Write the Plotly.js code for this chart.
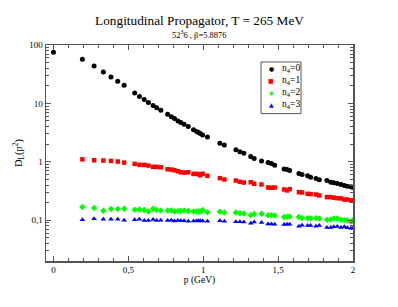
<!DOCTYPE html>
<html>
<head>
<meta charset="utf-8">
<script src="https://cdn.plot.ly/plotly-3.0.1.min.js"></script>
<style>html,body{margin:0;padding:0;background:#fff;}#chart{width:398px;height:307px;}</style>
</head>
<body>
<div id="chart"></div>
<script>
// zero-momentum point (n4=0 only)
const p0 = [0.0];
const d0zero = [75];

// momenta (GeV) shared by the four series
const p = [0.193, 0.271, 0.333, 0.384, 0.429, 0.472, 0.542, 0.574, 0.606, 0.634, 0.665, 0.689, 0.717,
  0.762, 0.787, 0.808, 0.831, 0.85, 0.872, 0.9, 0.935, 0.956, 0.969, 0.98, 0.996, 1.028,
  1.111, 1.141, 1.218, 1.245, 1.271, 1.317, 1.34, 1.389, 1.433, 1.455, 1.477, 1.54, 1.56, 1.577,
  1.639, 1.66, 1.697, 1.717, 1.753, 1.775, 1.826, 1.852, 1.872, 1.895, 1.92, 1.942, 1.962, 1.986, 1.998];

const n4_0 = [57, 43.8, 34.6, 28.4, 24, 20.5, 15, 13.1, 11.7, 10.4, 9.2, 8.4, 7.6,
  6.5, 5.9, 5.5, 5.0, 4.72, 4.4, 4.04, 3.52, 3.31, 3.17, 3.05, 2.88, 2.66,
  2.07, 1.94, 1.60, 1.48, 1.40, 1.23, 1.135, 1.035, 0.968, 0.931, 0.871, 0.756, 0.736, 0.708,
  0.63, 0.605, 0.574, 0.544, 0.517, 0.491, 0.478, 0.447, 0.436, 0.425, 0.408, 0.393, 0.382, 0.373, 0.367];

const n4_1 = [1.10, 1.06, 1.05, 1.035, 1.01, 0.968, 0.92, 0.885, 0.885, 0.861, 0.818, 0.818, 0.805,
  0.745, 0.737, 0.716, 0.689, 0.662, 0.654, 0.662, 0.621, 0.621, 0.614, 0.589, 0.621, 0.574,
  0.524, 0.497, 0.478, 0.454, 0.441, 0.446, 0.42, 0.408, 0.363, 0.359, 0.363, 0.336, 0.323, 0.34,
  0.302, 0.298, 0.283, 0.28, 0.275, 0.265, 0.248, 0.248, 0.243, 0.238, 0.236, 0.226, 0.226, 0.218, 0.216];

const n4_2 = [0.168, 0.161, 0.145, 0.155, 0.155, 0.157, 0.151, 0.153, 0.149, 0.141, 0.157, 0.149, 0.147,
  0.147, 0.147, 0.141, 0.143, 0.143, 0.147, 0.143, 0.141, 0.141, 0.141, 0.139, 0.149, 0.137,
  0.14, 0.136, 0.135, 0.131, 0.13, 0.121, 0.127, 0.129, 0.121, 0.121, 0.12, 0.113, 0.115, 0.116,
  0.113, 0.109, 0.108, 0.108, 0.108, 0.107, 0.102, 0.103, 0.107, 0.107, 0.102, 0.1, 0.1, 0.095, 0.099];

const n4_3 = [0.102, 0.106, 0.104, 0.104, 0.104, 0.1, 0.102, 0.104, 0.099, 0.099, 0.103, 0.099, 0.1,
  0.099, 0.1, 0.097, 0.099, 0.098, 0.098, 0.096, 0.097, 0.098, 0.097, 0.098, 0.097, 0.096,
  0.098, 0.096, 0.094, 0.094, 0.093, 0.089, 0.093, 0.091, 0.086, 0.086, 0.085, 0.084, 0.085, 0.085,
  0.079, 0.082, 0.081, 0.081, 0.079, 0.081, 0.075, 0.075, 0.077, 0.078, 0.075, 0.077, 0.074, 0.073, 0.072];

const seriesNames = ['n<sub>4</sub>=0', 'n<sub>4</sub>=1', 'n<sub>4</sub>=2', 'n<sub>4</sub>=3'];
const xTickVals = [0, 0.5, 1, 1.5, 2];
const xTickText = ['0', '0,5', '1', '1,5', '2'];
const yTickVals = [0.1, 1, 10, 100];
const yTickText = ['0,1', '1', '10', '100'];

const colors = ['#000000', '#ff0000', '#00ff00', '#0000ff'];
const symbols = ['circle', 'square', 'diamond', 'triangle-up'];
const glyphs = ['\u25CF', '\u25A0', '\u25C6', '\u25B2'];

const yMinor = [];
for (let e = -2; e <= 1; e++) for (let k = 2; k <= 9; k++) yMinor.push(k * Math.pow(10, e));

const ys = [n4_0, n4_1, n4_2, n4_3];
const traces = ys.map((y, i) => ({
  type: 'scatter', mode: 'markers',
  x: i === 0 ? p0.concat(p) : p,
  y: i === 0 ? d0zero.concat(y) : y,
  name: seriesNames[i],
  marker: {color: colors[i], symbol: symbols[i], size: i === 1 ? 4.5 : 5, line: {width: 0}},
  showlegend: false
}));

const serif = 'Liberation Serif';
const annotations = [
  {text: '52<sup>3</sup>6 , \u03B2=5.8876', xref: 'paper', yref: 'paper', x: 0.5, y: 1 + 11/216,
   xanchor: 'center', yanchor: 'middle', showarrow: false, font: {family: serif, size: 8.5, color: '#000'}}
];
const legTop = (260.7 - 68.3) / 216, legStep = 12.1 / 216;
seriesNames.forEach((n, i) => {
  annotations.push({
    text: glyphs[i],
    xref: 'paper', yref: 'paper', x: (271 - 46) / 307, y: legTop - i * legStep,
    xanchor: 'center', yanchor: 'middle', showarrow: false,
    font: {family: 'DejaVu Sans', size: 6, color: colors[i]}
  });
  annotations.push({
    text: n, xref: 'paper', yref: 'paper', x: (280 - 46) / 307, y: legTop - i * legStep,
    xanchor: 'left', yanchor: 'middle', showarrow: false, font: {family: serif, size: 9.5, color: '#000'}
  });
});

const axisCommon = {
  showline: true, linecolor: '#555', linewidth: 1.5, mirror: 'allticks',
  ticks: 'inside', ticklen: 5, tickcolor: '#555', tickwidth: 1,
  showgrid: false, zeroline: false,
  tickfont: {family: serif, size: 9, color: '#000'}
};

const layout = {
  width: 398, height: 307,
  margin: {l: 46, r: 45, t: 45, b: 46},
  paper_bgcolor: '#fff', plot_bgcolor: '#fff',
  showlegend: false,
  font: {family: serif},
  title: {text: 'Longitudinal Propagator, T = 265 MeV', font: {family: serif, size: 13.3, color: '#000'},
    x: 0.5, xref: 'paper', xanchor: 'center', y: 1 - 20/307, yref: 'container', yanchor: 'middle'},
  xaxis: Object.assign({}, axisCommon, {
    range: [-0.05, 2], tickvals: xTickVals, ticktext: xTickText,
    minor: {dtick: 0.1, tick0: 0, ticks: 'inside', ticklen: 3, tickcolor: '#555', showgrid: false},
    title: {text: 'p (GeV)', font: {family: serif, size: 9.5, color: '#000'}, standoff: 1}
  }),
  yaxis: Object.assign({}, axisCommon, {
    type: 'log', range: [Math.log10(0.02), 2], tickvals: yTickVals, ticktext: yTickText,
    minor: {tickvals: yMinor, ticks: 'inside', ticklen: 3, tickcolor: '#555', showgrid: false},
    title: {text: 'D<sub>L</sub>(p<sup>2</sup>)', font: {family: serif, size: 10.5, color: '#000'}, standoff: 4}
  }),
  shapes: [{type: 'rect', xref: 'paper', yref: 'paper',
    x0: (261 - 46) / 307, x1: (301 - 46) / 307, y0: (260.7 - 113.3) / 216, y1: (260.7 - 61.7) / 216,
    line: {color: '#555', width: 1}, fillcolor: 'rgba(0,0,0,0)'}],
  annotations: annotations
};

Plotly.newPlot('chart', traces, layout, {displayModeBar: false, staticPlot: true});
</script>
</body>
</html>
